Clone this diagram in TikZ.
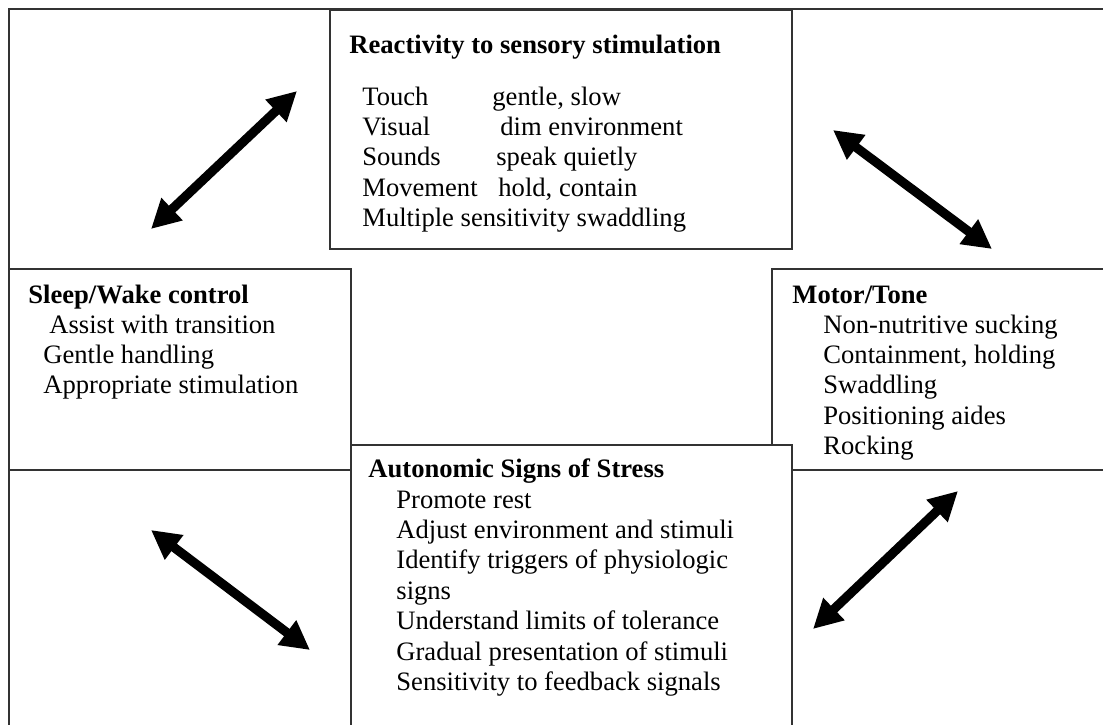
\documentclass[tikz,border=0pt]{standalone}
\usepackage{fontspec}
\setmainfont{Liberation Serif}
\usetikzlibrary{arrows.meta,fit}
\tikzset{
  framebox/.style={draw=black!80, line width=0.9pt, fill=white, inner sep=0pt},
  boxtext/.style={anchor=base west, inner sep=0pt, font=\fontsize{13.3}{15.2}\selectfont},
  dblarrow/.style={{Triangle[length=14.5pt,width=14.5pt]}-{Triangle[length=14.5pt,width=14.5pt]}, line width=4.6pt},
}
\newcommand{\boxlines}[1]{\begin{tabular}[t]{@{}l@{}}#1\end{tabular}}
\begin{document}
\begin{tikzpicture}[x=0.5pt,y=-0.5pt]
\useasboundingbox (0,0) rectangle (1103,724);
\clip (0,0) rectangle (1103,724);
% outer frame and boxes
\node[framebox, fit={(9,9) (1140,760)}] (outer) {};
\node[framebox, fit={(330,10) (792,249)}] (react) {};
\node[framebox, fit={(9,269) (351,470)}] (sleep) {};
\node[framebox, fit={(772,269) (1140,470)}] (motor) {};
\node[framebox, fit={(351,445) (792,760)}] (auto) {};
% texts
\node[boxtext] (reactT) at (349,53) {\bfseries Reactivity to sensory stimulation};
\node[boxtext] (reactL) at (362,105) {\boxlines{\makebox[65pt][l]{Touch}gentle, slow\\
\makebox[69pt][l]{Visual}dim environment\\
\makebox[67pt][l]{Sounds}speak quietly\\
\makebox[68pt][l]{Movement}hold, contain\\
Multiple sensitivity swaddling}};
\node[boxtext] (sleepT) at (28,303) {\bfseries Sleep/Wake control};
\node[boxtext] (sleepL) at (43,333) {\boxlines{\hspace{3pt}Assist with transition\\
Gentle handling\\
Appropriate stimulation}};
\node[boxtext] (motorT) at (792,303) {\bfseries Motor/Tone};
\node[boxtext] (motorL) at (823,333) {\boxlines{Non-nutritive sucking\\
Containment, holding\\
Swaddling\\
Positioning aides\\
Rocking}};
\node[boxtext] (autoT) at (368,477) {\bfseries Autonomic Signs of Stress};
\node[boxtext] (autoL) at (396,508) {\boxlines{Promote rest\\
Adjust environment and stimuli\\
Identify triggers of physiologic\\
signs\\
Understand limits of tolerance\\
Gradual presentation of stimuli\\
Sensitivity to feedback signals}};
% arrows
\coordinate (a1s) at (151,229); \coordinate (a1e) at (297,91);
\coordinate (a2s) at (833,130); \coordinate (a2e) at (992,249);
\coordinate (a3s) at (151,530); \coordinate (a3e) at (310,650);
\coordinate (a4s) at (813,629); \coordinate (a4e) at (958,491);
\draw[dblarrow] (a1s) -- (a1e);
\draw[dblarrow] (a2s) -- (a2e);
\draw[dblarrow] (a3s) -- (a3e);
\draw[dblarrow] (a4s) -- (a4e);
\end{tikzpicture}
\end{document}
